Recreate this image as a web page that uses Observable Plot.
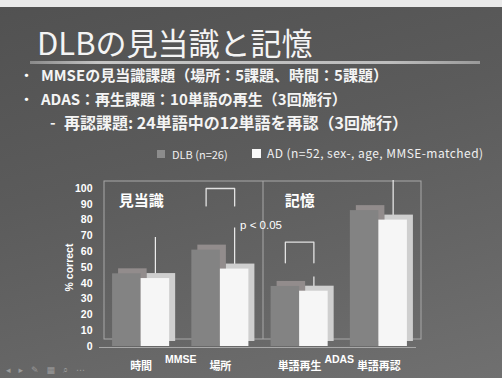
<!DOCTYPE html>
<html><head><meta charset="utf-8">
<script src="https://cdn.jsdelivr.net/npm/d3@7"></script>
<script src="https://cdn.jsdelivr.net/npm/@observablehq/plot@0.6"></script>
<style>
html,body{margin:0;padding:0;}
body{width:502px;height:378px;overflow:hidden;position:relative;
 background:linear-gradient(165deg,#515151 0%,#5b5b5b 40%,#656565 70%,#707070 100%);
 font-family:"Noto Sans CJK JP","Noto Sans",sans-serif;color:#fff;}
#topstrip{position:absolute;left:0;top:0;width:502px;height:7px;background:#e9e9e9;}
#title{position:absolute;left:37px;top:25px;font-size:31px;line-height:33px;white-space:nowrap;color:#f4f4f4;font-weight:400;}
#rule{position:absolute;left:30px;top:61px;width:450px;height:3px;background:linear-gradient(90deg,#8a8a8a,#c4c4c4 15%,#bdbdbd 80%,#9a9a9a);}
.line{position:absolute;white-space:nowrap;font-size:15px;line-height:18px;font-weight:700;color:#f4f4f4;}
.bul{position:absolute;font-size:13px;line-height:18px;font-weight:700;}
#legend{position:absolute;left:0;top:0;}
.sw{position:absolute;width:8px;height:8px;}
.lt{position:absolute;font-size:11px;line-height:14px;white-space:nowrap;font-family:"Noto Sans CJK JP",sans-serif;color:#f0f0f0;}
#chart{position:absolute;left:0;top:170px;}
#tools{position:absolute;left:6px;top:365px;font-size:9px;color:#9a9a9a;white-space:nowrap;letter-spacing:8px;font-family:"DejaVu Sans",sans-serif;}
</style></head>
<body>
<div id="topstrip"></div>
<div id="title">DLBの見当識と記憶</div>
<div id="rule"></div>
<div class="bul" style="left:20px;top:66px;">・</div>
<div class="line" style="left:41px;top:66px;">MMSEの見当識課題（場所：5課題、時間：5課題）</div>
<div class="bul" style="left:20px;top:90px;">・</div>
<div class="line" style="left:41px;top:90px;">ADAS：再生課題：10単語の再生（3回施行）</div>
<div class="line" style="left:50px;top:113px;">-</div>
<div class="line" style="left:64px;top:113px;font-size:16px;">再認課題: 24単語中の12単語を再認（3回施行）</div>
<div id="legend"></div>
<div id="chart"></div>
<div id="tools">◂▸✎▦⌕⋯</div>
<script>
// ---- data ----
const groups = ["時間", "場所", "単語再生", "単語再認"];
const sections = ["MMSE", "ADAS"];
const seriesNames = ["DLB (n=26)", "AD (n=52, sex-, age, MMSE-matched)"];
const dlbValues = [46, 61, 38, 86];
const adValues = [43, 49, 35, 80];
const adErrorTop = [69, 75, 44, 105];
const yTicks = [0, 10, 20, 30, 40, 50, 60, 70, 80, 90, 100];
const panelLabels = ["見当識", "記憶"];
const panelGroups = ["時間", "単語再生"];
const brackets = [
  {group: "場所", low: 89, high: 100},
  {group: "単語再生", low: 53, high: 66}
];
const pText = "p < 0.05";

// ---- styles ----
const W = 0.36; // half-pair width in band units
const dlbFront = "#838383", dlbDepth = "#928c8c";
const adFront = "#f6f6f6", adDepth = "#cfcfcf";
const frameColor = "#a8a8a8";

// legend
const legend = document.getElementById("legend");
legend.innerHTML =
  `<div class="sw" style="left:157px;top:150px;background:#8c8c8c"></div>` +
  `<div class="lt" style="left:172px;top:147px">${seriesNames[0]}</div>` +
  `<div class="sw" style="left:252px;top:149px;width:9px;height:9px;background:#f8f8f8"></div>` +
  `<div class="lt" style="left:267px;top:146px;font-size:12px;letter-spacing:0.45px">${seriesNames[1]}</div>`;

const idx = g => groups.indexOf(g);
const dlbRows = groups.map((g, i) => ({g, x1: i - W, x2: i, v: dlbValues[i]}));
const adRows = groups.map((g, i) => ({g, x1: i, x2: i + W, xc: i + W / 2, v: adValues[i], e: adErrorTop[i]}));
const bracketPts = brackets.flatMap((b, k) => {
  const i = idx(b.group);
  return [
    {k, x: i - W / 2, y: b.low},
    {k, x: i - W / 2, y: b.high},
    {k, x: i + W / 2, y: b.high},
    {k, x: i + W / 2, y: b.low}
  ];
});
const n = groups.length;

const chart = Plot.plot({
  width: 502, height: 208,
  marginTop: 18, marginBottom: 32, marginLeft: 101, marginRight: 84,
  x: {type: "linear", domain: [-0.5, n - 0.5]},
  y: {domain: [0, 100]},
  style: {background: "transparent", color: "#fff", fontFamily: "'Liberation Sans','Noto Sans CJK JP',sans-serif", overflow: "visible"},
  marks: [
    // back wall & floor
    Plot.rect([0], {x1: -0.5, x2: n - 0.5, y1: 0, y2: 100, dx: 3, dy: -7, fill: "none", stroke: frameColor, strokeWidth: 1}),
    Plot.ruleY([0], {x1: -0.5, x2: n - 0.5, dx: -2, dy: 1, stroke: frameColor, strokeWidth: 1}),
    Plot.ruleX([(n - 1) / 2], {y1: 0, y2: 100, dx: 3, dy: -7, stroke: frameColor, strokeWidth: 1}),
    // DLB bars
    Plot.rectY(dlbRows, {x1: "x1", x2: "x2", y1: 0, y2: "v", dx: 6, dy: -5, fill: dlbDepth}),
    Plot.rectY(dlbRows, {x1: "x1", x2: "x2", y1: 0, y2: "v", fill: dlbFront}),
    // AD error bars
    Plot.ruleX(adRows, {x: "xc", y1: "v", y2: "e", stroke: "#eeeeee", strokeWidth: 1.2}),
    // AD bars
    Plot.rectY(adRows, {x1: "x1", x2: "x2", y1: 0, y2: "v", dx: 6, dy: -5, fill: adDepth}),
    Plot.rectY(adRows, {x1: "x1", x2: "x2", y1: 0, y2: "v", fill: adFront}),
    // significance brackets
    Plot.line(bracketPts, {x: "x", y: "y", z: "k", stroke: "#e2e2e2", strokeWidth: 1.3}),
    Plot.text([pText], {x: (n - 1) / 2, y: 77, fill: "#fff", fontSize: 11.5, dx: 1}),
    // panel labels
    Plot.text(panelLabels, {x: (d, k) => idx(panelGroups[k]), y: 92, fill: "#fff", fontSize: 15, fontWeight: "bold", fontFamily: "Noto Sans CJK JP"}),
    // section labels
    Plot.text(sections, {x: (d, k) => 2 * k + 0.5, y: 0, dy: 13, fill: "#fff", fontSize: 10.5, fontWeight: "bold"}),
    // axes
    Plot.axisY({ticks: yTicks, tickSize: 0, tickPadding: 9, fontSize: 10.5, fontWeight: "bold",
      label: "% correct", labelAnchor: "center", labelOffset: 36, labelArrow: false}),
    Plot.axisX({ticks: groups.map((g, i) => i), tickFormat: i => groups[i], tickSize: 0, tickPadding: 16,
      fontSize: 11, fontWeight: "bold", fontFamily: "Noto Sans CJK JP", label: null})
  ]
});
document.getElementById("chart").appendChild(chart);
</script>
</body></html>
